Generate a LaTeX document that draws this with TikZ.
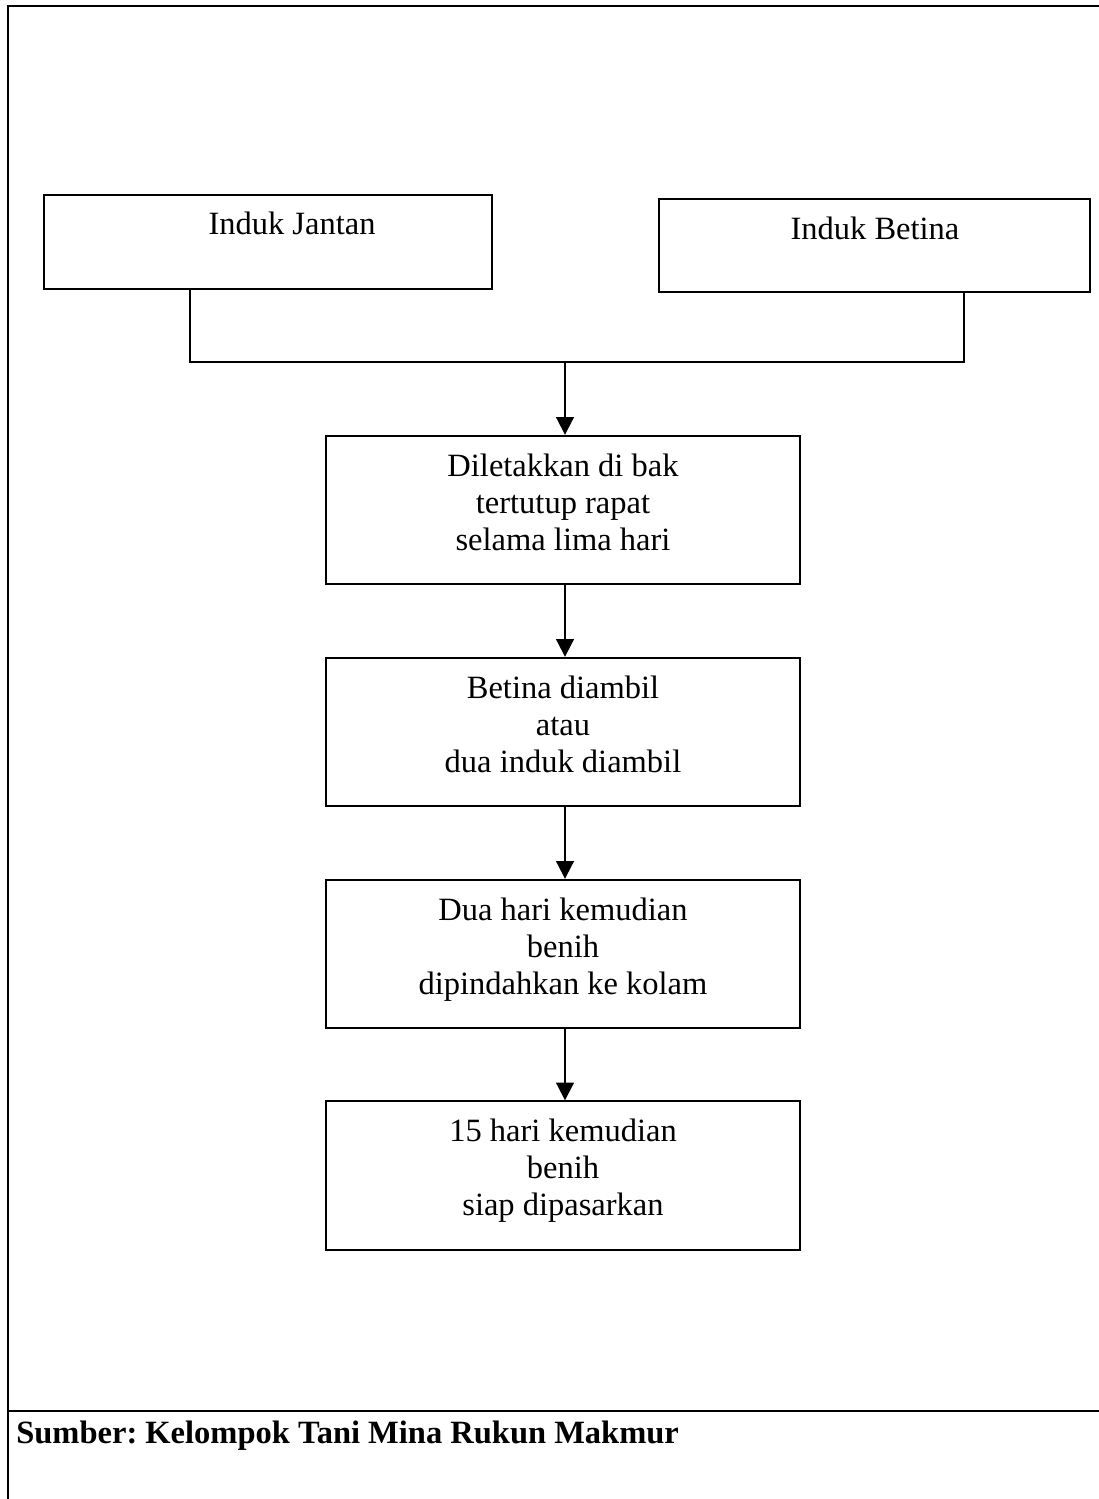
\documentclass[tikz,border=0pt]{standalone}
\usepackage{fontspec}
\setmainfont{Liberation Serif}
\frenchspacing
\usetikzlibrary{positioning,arrows.meta}
\tikzset{ %
  ,>={Triangle[width=10pt,length=10pt]}
  ,every node/.style={font=\fontsize{18.5}{21.1}\selectfont}
  ,indukbox/.style={draw, line width=1.1pt, inner sep=0, minimum height=1.87cm}
  ,stepbox/.style={draw, line width=1.1pt, align=center, inner sep=0, text depth=0.32cm, minimum width=9.5cm, minimum height=2.97cm}
  ,lbl/.style={inner sep=0, anchor=base}
  ,link/.style={line width=1.1pt}
}
\begin{document}
\begin{tikzpicture}[x=0.02cm, y=-0.02cm]
  \useasboundingbox (0,0) rectangle (1099,1499);
  % frame
  \draw[line width=1.4pt] (8,1499) -- (8,6) -- (1099,6);
  \draw[line width=1.1pt] (8,1411) -- (1099,1411);
  % parents
  \node[indukbox, minimum width=8.96cm] (jantan) at (268,242) {};
  \node[lbl] (jantanTxt) at (292,234) {Induk Jantan};
  \node[indukbox, minimum width=8.62cm] (betina) at (874.5,245.5) {};
  \node[lbl] (betinaTxt) at (875,239) {Induk Betina};
  % steps
  \node[stepbox] (s1) at (563,510) {Diletakkan di bak\\ tertutup rapat\\ selama lima hari};
  \node[stepbox] (s2) at (563,732) {Betina diambil\\ atau\\ dua induk diambil};
  \node[stepbox] (s3) at (563,954) {Dua hari kemudian\\ benih\\ dipindahkan ke kolam};
  \node[stepbox] (s4) at (563,1175.5) {15 hari kemudian\\ benih\\ siap dipasarkan};
  \node[lbl, anchor=base west, font=\fontsize{18.5}{21.1}\selectfont\bfseries] (sumber) at (16,1443) {Sumber: Kelompok Tani Mina Rukun Makmur};
  % connectors
  \coordinate (jl) at (190,362);
  \coordinate (bl) at (964,362);
  \coordinate (join) at (565,362);
  \draw[link] (jantan.south -| jl) -- (jl) -- (bl) -- (betina.south -| bl);
  \draw[link,->] (join) -- (join |- s1.north);
  \draw[link,->] (s1.south -| join) -- (s2.north -| join);
  \draw[link,->] (s2.south -| join) -- (s3.north -| join);
  \draw[link,->] (s3.south -| join) -- (s4.north -| join);
\end{tikzpicture}
\end{document}
